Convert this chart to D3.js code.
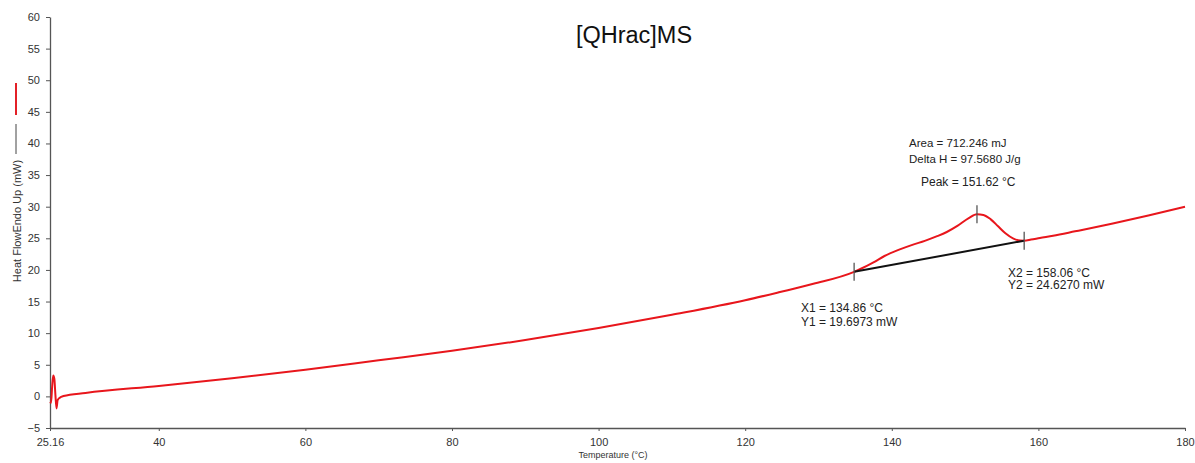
<!DOCTYPE html>
<html>
<head>
<meta charset="utf-8">
<script src="https://cdn.jsdelivr.net/npm/d3@7"></script>
<style>
  html, body { margin: 0; padding: 0; background: #fff; }
  svg { display: block; font-family: Arial, "Liberation Sans", sans-serif; }
</style>
</head>
<body>
<svg id="chart" width="1195" height="463"></svg>
<script>
// DSC scan of [QHrac]MS: heat flow vs temperature
const temperature = [
  25.16, 25.3, 25.45, 25.6, 25.75, 25.9, 26.05, 26.2, 26.5, 27,
  30, 40, 50, 60, 70, 80, 90, 100, 110, 120, 124.75, 129.3,
  134.86, 136, 137.5, 139, 141, 142.9, 144.5, 146.1, 147.5, 149, 150.5, 151.62,
  152.5, 153.5, 154.5, 155.5, 156.6, 157.5, 158.06, 159, 160.2, 162, 165, 170, 175, 180
];
const heatFlow = [
  -0.9, -1.0, 1.5, 3.3, 2.8, 0.2, -1.9, -0.6, -0.2, 0.05,
  0.55, 1.65, 2.85, 4.2, 5.7, 7.2, 8.9, 10.8, 12.9, 15.2, 16.5, 17.8,
  19.70, 20.3, 21.2, 22.2, 23.2, 24.0, 24.6, 25.3, 26.0, 27.0, 28.2, 28.8,
  28.7, 28.0, 26.9, 25.8, 24.95, 24.65, 24.63, 24.8, 25.05, 25.4, 26.1, 27.3, 28.6, 30.0
];

// Peak integration limits and peak position
const baseTemp = [134.86, 158.06];
const baseFlow = [19.6973, 24.6270];
const peakTemp = 151.62;
const peakFlow = 28.8;

const xTicks = [25.16, 40, 60, 80, 100, 120, 140, 160, 180];
const yTicks = [-5, 0, 5, 10, 15, 20, 25, 30, 35, 40, 45, 50, 55, 60];

const chartTitle = "[QHrac]MS";
const xTitle = "Temperature (°C)";
const yTitle = "Heat FlowEndo Up (mW)";
const areaText = ["Area = 712.246 mJ", "Delta H = 97.5680 J/g"];
const peakText = "Peak = 151.62 °C";
const x1Text = ["X1 = 134.86 °C", "Y1 = 19.6973 mW"];
const x2Text = ["X2 = 158.06 °C", "Y2 = 24.6270 mW"];

const svg = d3.select("#chart");
const x = d3.scaleLinear().domain([25.16, 180]).range([50, 1185]);
const y = d3.scaleLinear().domain([-5, 60]).range([428, 17]);

const axisColor = "#555";
const textColor = "#333";

// Axes
const xAxis = svg.append("g").attr("transform", "translate(0,428)")
  .call(d3.axisBottom(x).tickValues(xTicks)
    .tickFormat(d => d === 25.16 ? "25.16" : d3.format("d")(d))
    .tickSize(3).tickPadding(7).tickSizeOuter(0));
const yAxis = svg.append("g").attr("transform", "translate(50,0)")
  .call(d3.axisLeft(y).tickValues(yTicks).tickSize(4).tickPadding(6).tickSizeOuter(0));
[xAxis, yAxis].forEach(a => {
  a.select(".domain").attr("stroke", axisColor).attr("stroke-width", 1.3);
  a.selectAll(".tick line").attr("stroke", axisColor);
  a.selectAll(".tick text").attr("fill", textColor).attr("font-size", 11)
    .attr("font-family", "Arial, 'Liberation Sans', sans-serif");
});

// Axis titles
svg.append("text").attr("x", 613).attr("y", 458).attr("text-anchor", "middle")
  .attr("font-size", 9).attr("fill", textColor).text(xTitle);
svg.append("text").attr("transform", "translate(21,221) rotate(-90)")
  .attr("text-anchor", "middle").attr("font-size", 11).attr("fill", textColor).text(yTitle);

// Series key strokes beside the y axis
svg.append("line").attr("x1", 16).attr("x2", 16).attr("y1", 83).attr("y2", 115)
  .attr("stroke", "#e32027").attr("stroke-width", 2);
svg.append("line").attr("x1", 16).attr("x2", 16).attr("y1", 124).attr("y2", 154)
  .attr("stroke", "#444").attr("stroke-width", 1);

// Title
svg.append("text").attr("x", 634).attr("y", 43).attr("text-anchor", "middle")
  .attr("font-size", 23.5).attr("fill", "#111").text(chartTitle);

// Heat flow curve
const pts = temperature.map((t, i) => [t, heatFlow[i]]);
const line = d3.line().x(d => x(d[0])).y(d => y(d[1])).curve(d3.curveMonotoneX);
svg.append("path").datum(pts).attr("d", line)
  .attr("fill", "none").attr("stroke", "#e8161c").attr("stroke-width", 2)
  .attr("stroke-linejoin", "round");

// Integration baseline
svg.append("line")
  .attr("x1", x(baseTemp[0])).attr("y1", y(baseFlow[0]))
  .attr("x2", x(baseTemp[1])).attr("y2", y(baseFlow[1]))
  .attr("stroke", "#111").attr("stroke-width", 2);

// Vertical markers at limits and peak
const markers = [[baseTemp[0], baseFlow[0]], [peakTemp, peakFlow], [baseTemp[1], baseFlow[1]]];
svg.selectAll(".marker").data(markers).enter().append("line")
  .attr("x1", d => x(d[0])).attr("x2", d => x(d[0]))
  .attr("y1", d => y(d[1]) - 9).attr("y2", d => y(d[1]) + 9)
  .attr("stroke", "#555").attr("stroke-width", 1.3);

// Annotations
const ann = svg.append("g").attr("font-size", 12).attr("fill", "#222");
areaText.forEach((s, i) => ann.append("text").attr("x", 909).attr("y", 147 + i * 16)
  .attr("font-size", 11.5).text(s));
ann.append("text").attr("x", 921).attr("y", 186).text(peakText);
x1Text.forEach((s, i) => ann.append("text").attr("x", 801).attr("y", 312 + i * 14).text(s));
x2Text.forEach((s, i) => ann.append("text").attr("x", 1008).attr("y", 277 + i * 12).text(s));
</script>
</body>
</html>
